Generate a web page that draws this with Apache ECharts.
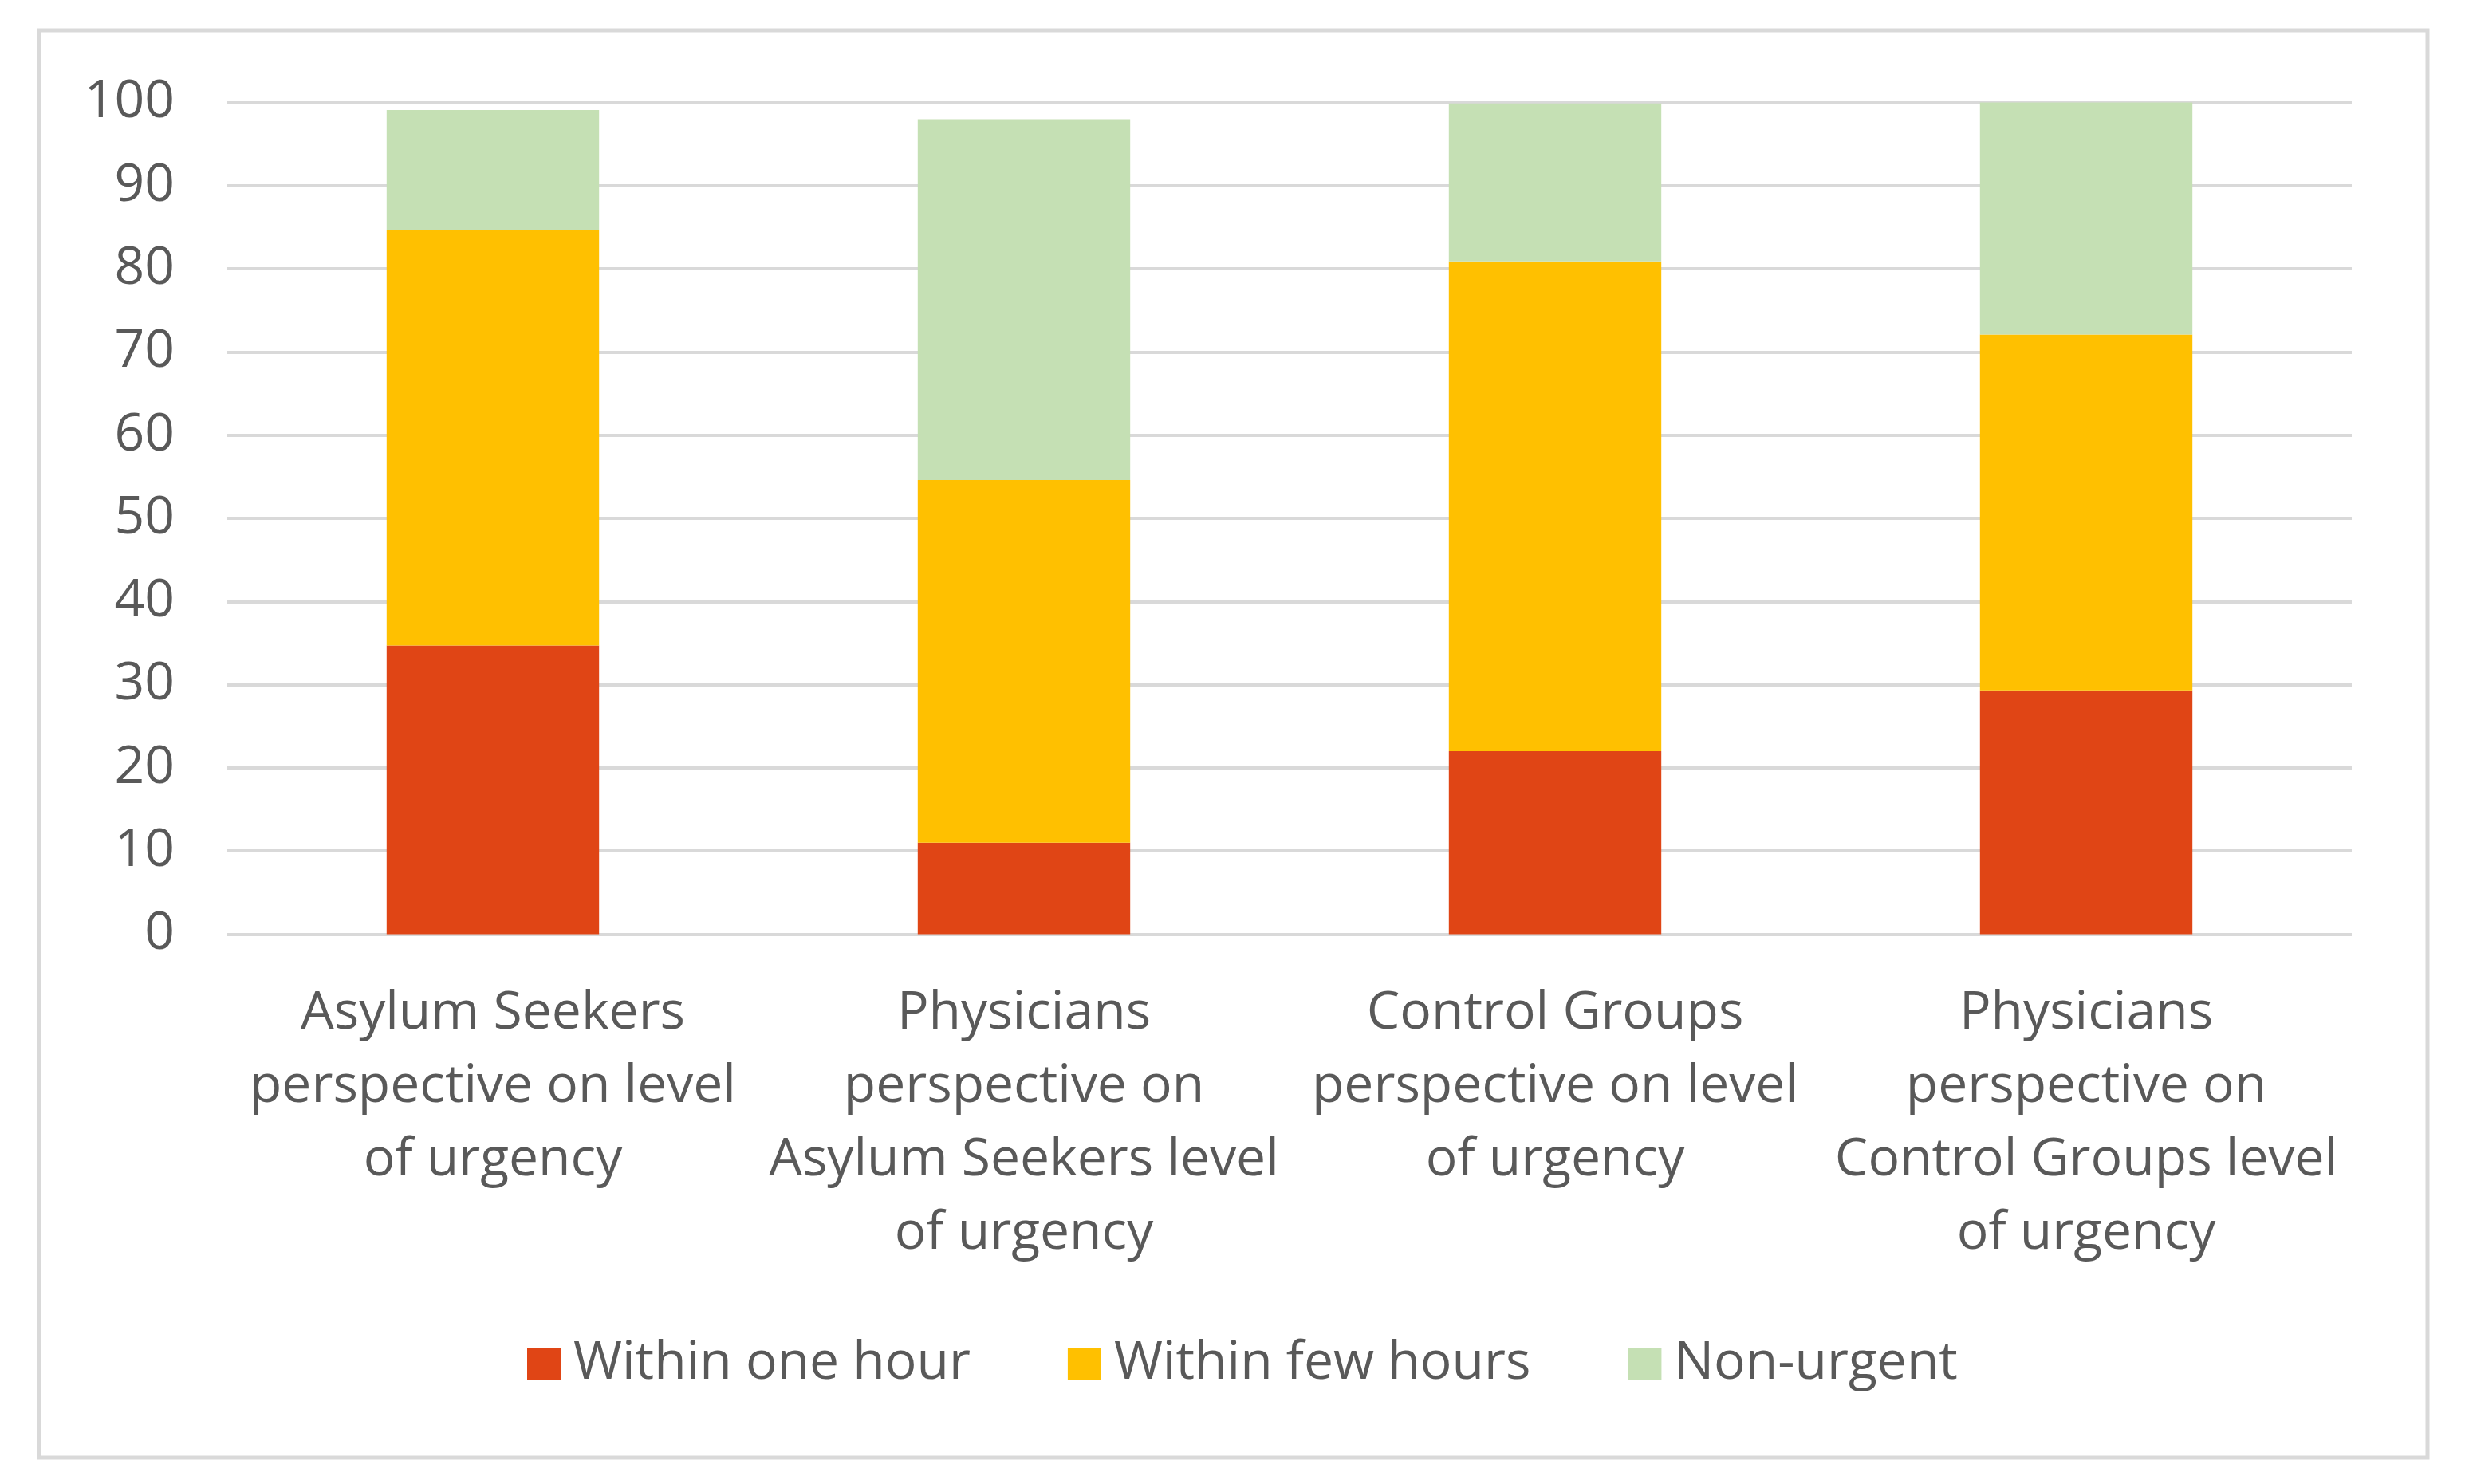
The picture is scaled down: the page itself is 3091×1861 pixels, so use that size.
<!DOCTYPE html>
<html>
<head>
<meta charset="utf-8">
<script src="https://cdn.jsdelivr.net/npm/echarts@6/dist/echarts.min.js"></script>
<style>
  html, body { margin: 0; padding: 0; background: #ffffff; }
  #chart { width: 3091px; height: 1861px; }
</style>
</head>
<body>
<div id="chart"></div>
<script>
// ---- Data ----
const categories = [
  "Asylum Seekers\nperspective on level\nof urgency",
  "Physicians\nperspective on\nAsylum Seekers level\nof urgency",
  "Control Groups\nperspective on level\nof urgency",
  "Physicians\nperspective on\nControl Groups level\nof urgency"
];
const seriesNames = ["Within one hour", "Within few hours", "Non-urgent"];
const withinOneHour = [34.7, 11.0, 22.0, 29.3];
const withinFewHours = [50.0, 43.6, 58.9, 42.8];
const nonUrgent = [14.4, 43.4, 19.0, 27.9];
const yTicks = { min: 0, max: 100, interval: 10 };

const colors = ["#E04515", "#FFC000", "#C5E0B4"];
const textColor = "#595959";
const fontFamily = "'Open Sans', 'Noto Sans', sans-serif";

const chart = echarts.init(document.getElementById('chart'), null, { renderer: 'canvas' });

const seriesData = [withinOneHour, withinFewHours, nonUrgent];

const option = {
  backgroundColor: '#ffffff',
  animation: false,
  color: colors,
  textStyle: { fontFamily: fontFamily, color: textColor },
  graphic: [{
    type: 'rect',
    shape: { x: 49, y: 38, width: 2995, height: 1790 },
    style: { fill: 'none', stroke: '#d9d9d9', lineWidth: 5 },
    z: -1
  }],
  grid: { left: 285, right: 142, top: 128.6, bottom: 689.6, containLabel: false },
  legend: {
    data: seriesNames,
    left: 656,
    top: 1672,
    itemWidth: 42,
    itemHeight: 40,
    itemGap: 122,
    icon: 'rect',
    textStyle: { fontSize: 66, color: textColor, fontFamily: fontFamily, padding: [0, 0, 0, 11] }
  },
  xAxis: {
    type: 'category',
    data: categories,
    axisLine: { show: false },
    axisTick: { show: false },
    axisLabel: {
      interval: 0,
      fontSize: 66,
      lineHeight: 92,
      color: textColor,
      fontFamily: fontFamily,
      margin: 54,
      align: 'center'
    }
  },
  yAxis: {
    type: 'value',
    min: yTicks.min,
    max: yTicks.max,
    interval: yTicks.interval,
    axisLine: { show: false },
    axisTick: { show: false },
    axisLabel: { fontSize: 66, color: textColor, fontFamily: fontFamily, margin: 66 },
    splitLine: { lineStyle: { color: '#d9d9d9', width: 4 } }
  },
  series: seriesNames.map((name, i) => ({
    name: name,
    type: 'bar',
    stack: 'total',
    barWidth: '40%',
    data: seriesData[i],
    itemStyle: { color: colors[i] }
  }))
};

chart.setOption(option);
</script>
</body>
</html>
